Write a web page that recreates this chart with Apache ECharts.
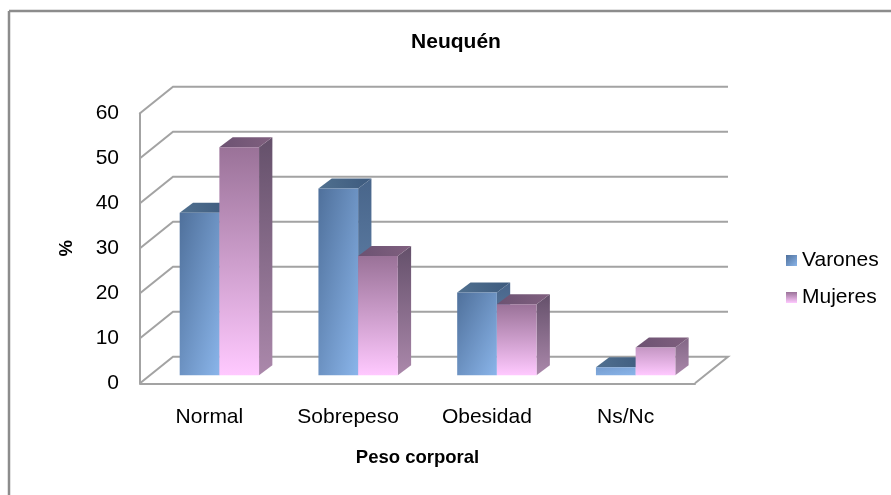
<!DOCTYPE html>
<html>
<head>
<meta charset="utf-8">
<style>html,body{margin:0;background:#fff}#main{width:891px;height:495px}</style>
<script src="https://cdn.jsdelivr.net/npm/echarts@6/dist/echarts.min.js"></script>
</head>
<body>
<div id="main"></div>
<script>
const categories = ['Normal', 'Sobrepeso', 'Obesidad', 'Ns/Nc'];
const varones = [36.1, 41.5, 18.4, 1.8];
const mujeres = [50.7, 26.5, 15.8, 6.2];
const yTicks = [0, 10, 20, 30, 40, 50, 60];

const FONT = '"Liberation Sans", Arial, sans-serif';
const LINE = '#a3a3a3';
// 3d look: offset of the back wall, of the bars plane and of one bar depth
const WALL = [33, -26.5];
const PLANE = [10, -8];
const DEPTH = [13.3, -10];

const blue = { dark: '#4f709b', light: '#8ab5ea', topA: '#3d5a7e', topB: '#50708f', sideA: '#48658a', sideB: '#6d8fb8' };
const pink = { dark: '#9a7298', light: '#ffc9ff', topA: '#80607f', topB: '#6c5272', sideA: '#64506a', sideB: '#ab88ab' };

function mix(a, b, t) {
  const pa = parseInt(a.slice(1), 16), pb = parseInt(b.slice(1), 16);
  const out = [16, 8, 0].map(function (s) {
    const ca = (pa >> s) & 255, cb = (pb >> s) & 255;
    return Math.round(ca + (cb - ca) * t);
  });
  return 'rgb(' + out.join(',') + ')';
}

function grad(x1, y1, x2, y2, a, b, abs) {
  return new echarts.graphic.LinearGradient(x1, y1, x2, y2, [
    { offset: 0, color: a },
    { offset: 1, color: b }
  ], abs);
}

// diagonal gradient whose colour lines run along the other diagonal of the rect
function diagGrad(x, y, w, h, a, b) {
  const s = 2 * w * h / (w * w + h * h);
  return grad(x, y, x + s * h, y + s * w, a, b, true);
}

function wallItem(params, api) {
  const box = params.coordSys;
  const y = api.coord([0, api.value(1)])[1];
  const left = box.x, right = box.x + box.width;
  const pts = [[left, y], [left + WALL[0], y + WALL[1]], [right + WALL[0], y + WALL[1]]];
  // floor closes on the right side
  if (api.value(1) === 0) pts.push([right, y]);
  return {
    type: 'polyline',
    shape: { points: pts },
    style: { stroke: LINE, lineWidth: 2, fill: null }
  };
}

function barRender(side, c) {
  return function (params, api) {
    const band = api.size([1, 0])[0];
    const w = band * 0.286;
    const val = api.value(1);
    const top = api.coord([api.value(0), val]);
    const base = api.coord([api.value(0), 0]);
    const x0 = top[0] + PLANE[0] + (side < 0 ? -w : 0);
    const x1 = x0 + w;
    const yt = top[1] + PLANE[1];
    const yb = base[1] + PLANE[1];
    // short bars start from a lighter colour
    const t = Math.max(0, 1 - val / 14) * 0.75;
    const front = mix(c.dark, c.light, t);
    return {
      type: 'group',
      children: [
        {
          type: 'polygon',
          shape: { points: [[x1, yt], [x1 + DEPTH[0], yt + DEPTH[1]], [x1 + DEPTH[0], yb + DEPTH[1]], [x1, yb]] },
          style: { fill: grad(0, 0, 0, 1, mix(c.sideA, c.sideB, t), c.sideB) }
        },
        {
          type: 'polygon',
          shape: { points: [[x0, yt], [x0 + DEPTH[0], yt + DEPTH[1]], [x1 + DEPTH[0], yt + DEPTH[1]], [x1, yt]] },
          style: { fill: grad(0, 1, 1, 0, c.topB, c.topA) }
        },
        {
          type: 'rect',
          shape: { x: x0, y: yt, width: w, height: yb - yt },
          style: { fill: side < 0 ? diagGrad(x0, yt, w, yb - yt, front, c.light) : grad(0, 0, 0, 1, front, c.light) }
        }
      ]
    };
  };
}

const chart = echarts.init(document.getElementById('main'));
chart.setOption({
  animation: false,
  backgroundColor: '#fff',
  title: {
    text: 'Neuquén',
    left: 451,
    top: 27,
    textAlign: 'center',
    textStyle: { fontFamily: FONT, fontSize: 21, fontWeight: 'bold', color: '#000' }
  },
  legend: {
    orient: 'vertical',
    left: 781,
    top: 245,
    itemWidth: 11,
    itemHeight: 11,
    itemGap: 16,
    icon: 'rect',
    data: ['Varones', 'Mujeres'],
    textStyle: { fontFamily: FONT, fontSize: 21, color: '#000', padding: [0, 0, 0, 0] }
  },
  grid: { left: 140, top: 113.3, width: 555, height: 270 },
  xAxis: {
    type: 'category',
    data: categories,
    name: 'Peso corporal',
    nameLocation: 'middle',
    nameGap: 65,
    nameTextStyle: { fontFamily: FONT, fontSize: 18.5, fontWeight: 'bold', color: '#000' },
    axisTick: { show: false },
    axisLine: { lineStyle: { color: LINE, width: 2 } },
    axisLabel: { fontFamily: FONT, fontSize: 21, color: '#000', margin: 23 }
  },
  yAxis: {
    type: 'value',
    min: 0,
    max: 60,
    interval: 10,
    name: '%',
    nameLocation: 'middle',
    nameRotate: 90,
    nameGap: 64,
    nameTextStyle: { fontFamily: FONT, fontSize: 18.5, fontWeight: 'bold', color: '#000' },
    splitLine: { show: false },
    axisTick: { show: false },
    axisLine: { show: true, lineStyle: { color: LINE, width: 2 } },
    axisLabel: { fontFamily: FONT, fontSize: 21, color: '#000', margin: 21 }
  },
  graphic: [
    // chart frame, only top and left sides show
    { type: 'line', shape: { x1: 9, y1: 11, x2: 891, y2: 11 }, style: { stroke: '#8c8c8c', lineWidth: 2.5 }, silent: true },
    { type: 'line', shape: { x1: 9, y1: 11, x2: 9, y2: 495 }, style: { stroke: '#8c8c8c', lineWidth: 2.5 }, silent: true }
  ],
  series: [
    {
      name: 'walls',
      type: 'custom',
      z: 1,
      silent: true,
      renderItem: wallItem,
      data: yTicks.map(function (v) { return [0, v]; }),
      encode: { x: 0, y: 1 }
    },
    {
      name: 'Varones',
      type: 'custom',
      z: 2,
      renderItem: barRender(-1, blue),
      itemStyle: { color: grad(0, 0, 1, 1, blue.dark, blue.light) },
      data: varones.map(function (v, i) { return [i, v]; }),
      encode: { x: 0, y: 1 }
    },
    {
      name: 'Mujeres',
      type: 'custom',
      z: 3,
      renderItem: barRender(1, pink),
      itemStyle: { color: grad(0, 0, 0, 1, pink.dark, pink.light) },
      data: mujeres.map(function (v, i) { return [i, v]; }),
      encode: { x: 0, y: 1 }
    }
  ]
});
</script>
</body>
</html>
